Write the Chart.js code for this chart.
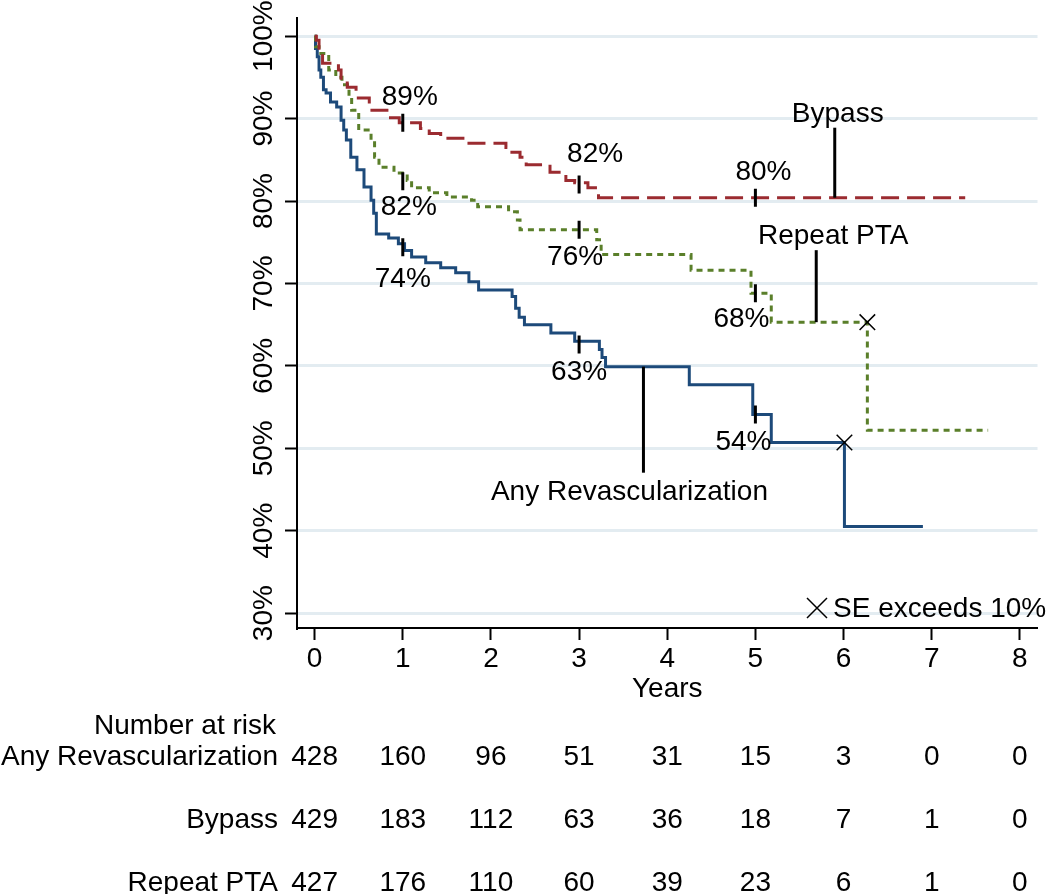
<!DOCTYPE html>
<html>
<head>
<meta charset="utf-8">
<title>Freedom from revascularization</title>
<script src="https://cdn.jsdelivr.net/npm/chart.js@4.4.1/dist/chart.umd.min.js"></script>
<style>
  html, body { margin: 0; padding: 0; background: #fff; }
  #wrap { width: 1050px; height: 894px; }
</style>
</head>
<body>
<div id="wrap"><canvas id="myChart" width="1050" height="894"></canvas></div>
<script>
// Kaplan-Meier steps: time (years) where the curve drops, and the value (%) after the drop
const anyTimes = [0, 0.01, 0.03, 0.05, 0.07, 0.1, 0.13, 0.18, 0.25, 0.3, 0.33, 0.36, 0.41, 0.48, 0.56, 0.64, 0.67, 0.7, 0.84, 0.95,
  1.02, 1.1, 1.26, 1.43, 1.6, 1.75, 1.86, 2.24, 2.28, 2.32, 2.38, 2.68, 2.95, 3.23, 3.26, 3.3, 4.25, 4.97, 5.18, 6.01, 6.9];
const anyValues = [100, 98.5, 97.5, 95.9, 95.0, 93.5, 93.1, 92.0, 91.4, 89.8, 88.6, 87.4, 85.3, 83.8, 81.7, 80.1, 78.5, 76.0, 75.5, 74.8,
  74.0, 73.2, 72.5, 71.9, 71.3, 70.2, 69.2, 68.4, 67.0, 65.9, 65.0, 64.0, 63.0, 62.0, 61.0, 59.9, 57.7, 54.1, 50.7, 40.5, 40.5];

const bypassTimes = [0, 0.02, 0.05, 0.09, 0.27, 0.3, 0.37, 0.47, 0.62, 0.82, 0.96, 1.2, 1.3, 1.43, 1.7, 2.17, 2.22, 2.33, 2.4, 2.67,
  2.85, 2.95, 3.1, 3.22, 7.38];
const bypassValues = [100, 99.5, 98.3, 96.7, 95.9, 94.9, 93.8, 92.5, 91.0, 90.1, 89.5, 88.8, 88.2, 87.6, 87.0, 86.5, 85.9, 85.3, 84.4, 83.5,
  82.5, 82.2, 81.6, 80.4, 80.4];

const ptaTimes = [0, 0.01, 0.05, 0.16, 0.24, 0.31, 0.39, 0.42, 0.5, 0.64, 0.68, 0.73, 0.9, 1.05, 1.1, 1.3, 1.5, 1.78, 1.85, 2.2,
  2.3, 2.33, 3.2, 3.25, 4.27, 4.95, 5.18, 6.27, 7.64];
const ptaValues = [100, 98.7, 97.9, 95.9, 95.0, 94.1, 92.6, 91.0, 88.6, 87.4, 85.3, 84.1, 83.4, 82.5, 81.6, 81.0, 80.5, 80.1, 79.3, 78.7,
  77.7, 76.5, 75.3, 73.5, 71.6, 68.8, 65.3, 52.2, 52.2];

// estimates shown at 1, 3 and 5 years
const landmarkYears = [1, 3, 5];
const anyLandmarks = [74.4, 62.6, 54.1];
const anyLabels = ['74%', '63%', '54%'];
const bypassLandmarks = [89.5, 82.0, 80.4];
const bypassLabels = ['89%', '82%', '80%'];
const ptaLandmarks = [82.4, 76.5, 68.8];
const ptaLabels = ['82%', '76%', '68%'];

// points where the standard error exceeds 10%
const seTimes = [6.01, 6.27];
const seValues = [50.7, 65.3];

// number at risk
const riskYears = [0, 1, 2, 3, 4, 5, 6, 7, 8];
const riskAny = [428, 160, 96, 51, 31, 15, 3, 0, 0];
const riskBypass = [429, 183, 112, 63, 36, 18, 7, 1, 0];
const riskPTA = [427, 176, 110, 60, 39, 23, 6, 1, 0];

const FONT = '"Liberation Sans", Arial, Helvetica, sans-serif';
const BLUE = '#1d4a7a';
const RED = '#9b2b30';
const GREEN = '#5a7f2a';

const toPoints = (xs, ys) => xs.map((t, i) => ({ x: t, y: ys[i] }));

function valueAt(times, values, t) {
  let v = values[0];
  for (let i = 0; i < times.length; i++) {
    if (times[i] <= t) v = values[i];
  }
  return v;
}

// label placement (pixel offsets from each landmark tick)
const landmarkText = [
  { labels: bypassLabels, values: bypassLandmarks, offsets: [[7, -25], [16, -30], [8, -25]] },
  { labels: ptaLabels, values: ptaLandmarks, offsets: [[6, 26], [-4, 27], [-14, 26]] },
  { labels: anyLabels, values: anyLandmarks, offsets: [[0, 32], [0, 28], [-12, 28]] }
];

const callouts = [
  { text: 'Bypass', times: bypassTimes, values: bypassValues, t: 5.9, len: -70, dx: 3, dy: -13 },
  { text: 'Repeat PTA', times: ptaTimes, values: ptaValues, t: 5.69, len: -72, dx: 17, dy: -14 },
  { text: 'Any Revascularization', times: anyTimes, values: anyValues, t: 3.73, len: 106, dx: -14, dy: 20 }
];

const overlay = {
  id: 'overlay',
  afterDraw(chart) {
    const { ctx, scales: { x, y } } = chart;
    ctx.save();
    ctx.fillStyle = '#000';
    ctx.strokeStyle = '#000';
    ctx.font = '28px ' + FONT;
    ctx.textAlign = 'center';
    ctx.textBaseline = 'middle';

    landmarkText.forEach(s => {
      landmarkYears.forEach((yr, i) => {
        const px = x.getPixelForValue(yr) + s.offsets[i][0];
        const py = y.getPixelForValue(s.values[i]) + s.offsets[i][1];
        ctx.fillText(s.labels[i], px, py);
      });
    });

    ctx.lineWidth = 3;
    callouts.forEach(c => {
      const px = x.getPixelForValue(c.t);
      const py = y.getPixelForValue(valueAt(c.times, c.values, c.t));
      ctx.beginPath();
      ctx.moveTo(px, py);
      ctx.lineTo(px, py + c.len);
      ctx.stroke();
      ctx.fillText(c.text, px + c.dx, py + c.len + c.dy);
    });

    // SE legend
    const lx = 817, ly = 608, r = 10;
    ctx.lineWidth = 1.5;
    ctx.beginPath();
    ctx.moveTo(lx - r, ly - r); ctx.lineTo(lx + r, ly + r);
    ctx.moveTo(lx - r, ly + r); ctx.lineTo(lx + r, ly - r);
    ctx.stroke();
    ctx.textAlign = 'left';
    ctx.fillText('SE exceeds 10%', lx + 16, ly + 1);

    // number at risk table
    ctx.textAlign = 'center';
    ctx.fillText('Number at risk', 185, 726);
    const rows = [['Any Revascularization', riskAny, 757], ['Bypass', riskBypass, 820], ['Repeat PTA', riskPTA, 883]];
    rows.forEach(([name, vals, ry]) => {
      ctx.textAlign = 'right';
      ctx.fillText(name, 278, ry);
      ctx.textAlign = 'center';
      riskYears.forEach((yr, i) => {
        ctx.fillText(String(vals[i]), x.getPixelForValue(yr), ry);
      });
    });
    ctx.restore();
  }
};

const tickDataset = (vals) => ({
  type: 'scatter',
  data: toPoints(landmarkYears, vals),
  pointStyle: 'line',
  rotation: 90,
  radius: 9,
  borderWidth: 3,
  borderColor: '#000',
  backgroundColor: '#000'
});

const ctx = document.getElementById('myChart');

new Chart(ctx, {
  type: 'line',
  data: {
    datasets: [
      tickDataset(bypassLandmarks),
      tickDataset(ptaLandmarks),
      tickDataset(anyLandmarks),
      {
        type: 'scatter',
        data: toPoints(seTimes, seValues),
        pointStyle: 'crossRot',
        radius: 11,
        borderWidth: 1.5,
        borderColor: '#000'
      },
      {
        label: 'Bypass',
        data: toPoints(bypassTimes, bypassValues),
        stepped: true,
        borderColor: RED,
        borderWidth: 3,
        borderDash: [18, 8],
        pointRadius: 0
      },
      {
        label: 'Repeat PTA',
        data: toPoints(ptaTimes, ptaValues),
        stepped: true,
        borderColor: GREEN,
        borderWidth: 3,
        borderDash: [6, 5],
        pointRadius: 0
      },
      {
        label: 'Any Revascularization',
        data: toPoints(anyTimes, anyValues),
        stepped: true,
        borderColor: BLUE,
        borderWidth: 3,
        pointRadius: 0
      }
    ]
  },
  options: {
    responsive: false,
    animation: false,
    layout: { padding: { top: 18, right: 12, bottom: 176, left: 0 } },
    plugins: {
      legend: { display: false },
      tooltip: { enabled: false }
    },
    scales: {
      x: {
        type: 'linear',
        min: -0.2,
        max: 8.2,
        afterFit: (s) => { s.height = 90; },
        ticks: {
          stepSize: 1,
          includeBounds: false,
          color: '#000',
          font: { family: FONT, size: 28 },
          padding: 2
        },
        grid: { drawOnChartArea: false, tickLength: 12, tickColor: '#000', tickWidth: 2 },
        border: { color: '#000', width: 2 },
        title: {
          display: true,
          text: 'Years',
          color: '#000',
          font: { family: FONT, size: 28 },
          padding: { top: 0, bottom: 12 }
        }
      },
      y: {
        min: 28.2,
        max: 102.2,
        afterFit: (s) => { s.width = 297; },
        ticks: {
          stepSize: 10,
          includeBounds: false,
          minRotation: 90,
          maxRotation: 90,
          crossAlign: 'center',
          padding: -15,
          color: '#000',
          font: { family: FONT, size: 28 },
          callback: (v) => v + '%'
        },
        grid: { color: '#e3ecf1', lineWidth: 3, tickLength: 12, tickColor: '#000', tickWidth: 2 },
        border: { color: '#000', width: 2 }
      }
    }
  },
  plugins: [overlay]
});
</script>
</body>
</html>
